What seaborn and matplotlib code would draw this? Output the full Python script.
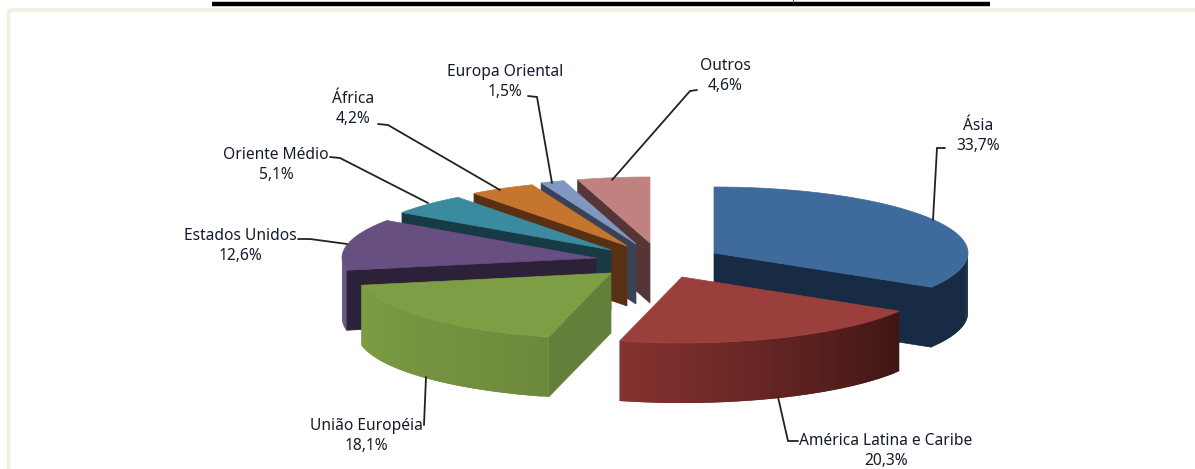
import numpy as np
import matplotlib
matplotlib.use("Agg")
import matplotlib.pyplot as plt
from matplotlib.patches import Polygon, FancyBboxPatch
from matplotlib.colors import to_rgb
import seaborn as sns

regions = ["Ásia", "América Latina e Caribe", "União Européia", "Estados Unidos",
           "Oriente Médio", "África", "Europa Oriental", "Outros"]
shares = [33.7, 20.3, 18.1, 12.6, 5.1, 4.2, 1.5, 4.6]
share_labels = ["33,7%", "20,3%", "18,1%", "12,6%", "5,1%", "4,2%", "1,5%", "4,6%"]

top_colors = ["#3F6A9C", "#9B3F3C", "#7E9E45", "#674F82",
              "#3A8AA0", "#C6752F", "#8098BF", "#C08280"]
cut_colors = ["#182B44", "#84322F", "#637F3A", "#2D2039",
              "#183A45", "#5A3014", "#3A4258", "#553535"]
rim_from = ["#182B44", "#3F1614", "#6D8A3C", "#5F4A7A",
            "#183A45", "#5A3014", "#3A4258", "#553535"]
rim_to = ["#182B44", "#84322F", "#7D9D43", "#5F4A7A",
          "#183A45", "#5A3014", "#3A4258", "#553535"]

# Apex of each exploded slice on the page
apex_x = [714, 682, 611, 596, 611, 627, 636, 650]
apex_y = [253, 277, 273, 258, 250, 246, 244, 243]
RX, RY, DEPTH = 254, 66, 60

# Label placement: centre of the text block and the leader line
label_xy = [(978, 136), (886, 451), (366, 436), (240, 246),
            (276, 165), (353, 109), (505, 82), (725, 76)]
leaders = [
    [(945, 148), (937, 148), (933, 220)],
    [(778, 397), (788, 441), (798, 441)],
    [(426, 377), (424, 425)],
    [(298, 239), (310, 239), (347, 244)],
    [(330, 157), (340, 158), (428, 203)],
    [(378, 124), (388, 125), (500, 190)],
    [(528, 96), (537, 97), (552, 183)],
    [(697, 90), (690, 91), (612, 180)],
]

sns.set_theme(style="white")
plt.rcParams["font.family"] = ["Noto Sans", "DejaVu Sans"]

fig, ax = plt.subplots(figsize=(11.95, 4.69), dpi=100)
fig.subplots_adjust(0, 0, 1, 1)
ax.set_xlim(0, 1195)
ax.set_ylim(469, 0)
ax.axis("off")
sns.despine(ax=ax, left=True, bottom=True)


def rim_point(i, theta):
    return (apex_x[i] + RX * np.sin(theta), apex_y[i] - RY * np.cos(theta))


def draw_slice(i, start, end):
    ax_pt = (apex_x[i], apex_y[i])
    # Cut faces that turn towards the viewer
    for edge, visible in ((start, np.sin(start) < 0), (end, np.sin(end) > 0)):
        if visible:
            x, y = rim_point(i, edge)
            ax.add_patch(Polygon([ax_pt, (x, y), (x, y + DEPTH), (ax_pt[0], ax_pt[1] + DEPTH)],
                                 closed=True, fc=cut_colors[i], ec=cut_colors[i], lw=0.5, zorder=z[i]))
    # Outer rim, shaded in overlapping strips so no seams show
    lo, hi = max(start, np.pi / 2), min(end, 3 * np.pi / 2)
    if hi > lo:
        edges = np.linspace(lo, hi, 41)
        c0, c1 = np.array(to_rgb(rim_from[i])), np.array(to_rgb(rim_to[i]))
        for k in range(40):
            arc = np.linspace(edges[k], edges[min(k + 2, 40)], 6)
            upper = [rim_point(i, t) for t in arc]
            lower = [(x, y + DEPTH) for x, y in reversed(upper)]
            col = c0 + (c1 - c0) * k / 39
            ax.add_patch(Polygon(upper + lower, closed=True, fc=col, ec="none", lw=0,
                                 zorder=z[i] + 0.01 * k / 40))
    # Top face
    arc = np.linspace(start, end, 80)
    pts = [ax_pt] + [rim_point(i, t) for t in arc]
    ax.add_patch(Polygon(pts, closed=True, fc=top_colors[i], ec=top_colors[i], lw=0.5, zorder=z[i] + 0.05))


# Page furniture: pale frame and the heavy rule above it
ax.add_patch(FancyBboxPatch((8.5, 10), 1240, 520, boxstyle="round,pad=0,rounding_size=3",
                            fc="white", ec="#EBF1DF", lw=2.6, zorder=0))
ax.plot([212, 990], [4, 4], color="black", lw=3.2, solid_capstyle="butt", zorder=1)
ax.plot([793, 793], [0, 2], color="#555555", lw=0.8, zorder=1)

# Far slices first, near slices on top
z = [3, 4, 5, 2.5, 2, 1.8, 1.6, 1.4]
angles = np.cumsum([0] + shares) / sum(shares) * 2 * np.pi
for i in range(len(shares)):
    draw_slice(i, angles[i], angles[i + 1])

for i, (name, share) in enumerate(zip(regions, share_labels)):
    xs, ys = zip(*leaders[i])
    ax.plot(xs, ys, color="#222222", lw=1.3, zorder=6, solid_joinstyle="miter")
    ax.text(label_xy[i][0], label_xy[i][1], f"{name}\n{share}", ha="center", va="center",
            fontsize=11.2, color="#141B2B", linespacing=1.38, zorder=7)

fig.savefig("out.png", dpi=100, facecolor="white")
